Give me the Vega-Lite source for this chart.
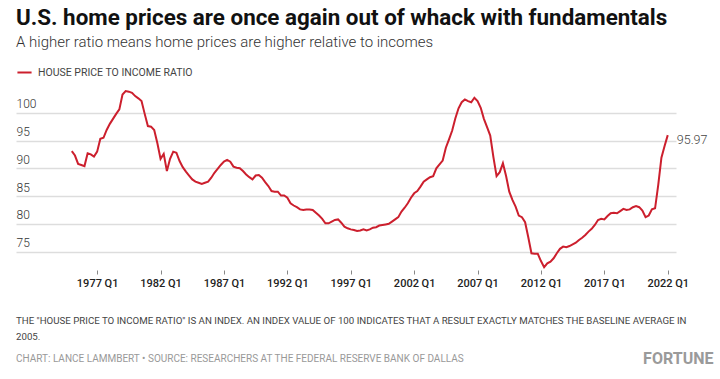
{
  "$schema": "https://vega.github.io/schema/vega-lite/v6.json",
  "background": "white",
  "padding": {"left": 16, "top": 6, "right": 8, "bottom": 0},
  "config": {"view": {"stroke": null}, "font": "Roboto", "concat": {"spacing": 0}},
  "title": {"text": "FORTUNE", "orient": "bottom", "anchor": "end", "font": "Roboto", "fontSize": 16, "fontWeight": "bold", "color": "#9a9a9a", "offset": -13, "dx": 6},
  "vconcat": [{
    "title": {
      "text": ["THE \"HOUSE PRICE TO INCOME RATIO\" IS AN INDEX. AN INDEX VALUE OF 100 INDICATES THAT A RESULT EXACTLY MATCHES THE BASELINE AVERAGE IN", "2005."],
      "subtitle": "CHART: LANCE LAMMBERT • SOURCE: RESEARCHERS AT THE FEDERAL RESERVE BANK OF DALLAS",
      "orient": "bottom", "anchor": "start", "frame": "bounds",
      "font": "Roboto", "fontSize": 9.7, "fontWeight": "normal", "color": "#444", "lineHeight": 16,
      "subtitleFont": "Roboto", "subtitleFontSize": 10, "subtitleColor": "#999", "subtitlePadding": 12.5,
      "offset": 27
    },
    "vconcat": [{
      "title": {
        "text": "U.S. home prices are once again out of whack with fundamentals",
        "subtitle": "A higher ratio means home prices are higher relative to incomes",
        "anchor": "start", "frame": "bounds",
        "font": "Roboto", "fontSize": 22.4, "fontWeight": "bold", "color": "#111",
        "subtitleFont": "Roboto", "subtitleFontSize": 15, "subtitleFontWeight": 300, "subtitleColor": "#333", "subtitlePadding": 6,
        "offset": 14
      },
      "width": 660,
      "height": 205,
      "data": {"values": [
        {"t":1975,"v":93.1},{"t":1975.25,"v":92.3},{"t":1975.5,"v":90.8},{"t":1975.75,"v":90.6},
        {"t":1976,"v":90.4},{"t":1976.25,"v":92.7},{"t":1976.5,"v":92.5},{"t":1976.75,"v":92.1},
        {"t":1977,"v":93.0},{"t":1977.25,"v":95.3},{"t":1977.5,"v":95.5},{"t":1977.75,"v":96.9},
        {"t":1978,"v":98.0},{"t":1978.25,"v":98.9},{"t":1978.5,"v":99.8},{"t":1978.75,"v":100.6},
        {"t":1979,"v":103.3},{"t":1979.25,"v":103.9},{"t":1979.5,"v":103.8},{"t":1979.75,"v":103.6},
        {"t":1980,"v":103.0},{"t":1980.25,"v":102.6},{"t":1980.5,"v":102.1},{"t":1980.75,"v":99.8},
        {"t":1981,"v":97.6},{"t":1981.25,"v":97.5},{"t":1981.5,"v":96.9},{"t":1981.75,"v":94.5},
        {"t":1982,"v":91.7},{"t":1982.25,"v":92.6},{"t":1982.5,"v":89.5},{"t":1982.75,"v":91.7},
        {"t":1983,"v":93.0},{"t":1983.25,"v":92.8},{"t":1983.5,"v":91.3},{"t":1983.75,"v":90.2},
        {"t":1984,"v":89.4},{"t":1984.25,"v":88.7},{"t":1984.5,"v":88.0},{"t":1984.75,"v":87.6},
        {"t":1985,"v":87.4},{"t":1985.25,"v":87.2},{"t":1985.5,"v":87.4},{"t":1985.75,"v":87.6},
        {"t":1986,"v":88.3},{"t":1986.25,"v":89.2},{"t":1986.5,"v":89.9},{"t":1986.75,"v":90.6},
        {"t":1987,"v":91.2},{"t":1987.25,"v":91.5},{"t":1987.5,"v":91.2},{"t":1987.75,"v":90.3},
        {"t":1988,"v":90.1},{"t":1988.25,"v":90.0},{"t":1988.5,"v":89.5},{"t":1988.75,"v":88.9},
        {"t":1989,"v":88.4},{"t":1989.25,"v":88.0},{"t":1989.5,"v":88.7},{"t":1989.75,"v":88.8},
        {"t":1990,"v":88.3},{"t":1990.25,"v":87.5},{"t":1990.5,"v":86.8},{"t":1990.75,"v":85.9},
        {"t":1991,"v":85.8},{"t":1991.25,"v":85.8},{"t":1991.5,"v":85.1},{"t":1991.75,"v":85.1},
        {"t":1992,"v":84.7},{"t":1992.25,"v":83.7},{"t":1992.5,"v":83.3},{"t":1992.75,"v":83.0},
        {"t":1993,"v":82.6},{"t":1993.25,"v":82.5},{"t":1993.5,"v":82.6},{"t":1993.75,"v":82.6},
        {"t":1994,"v":82.5},{"t":1994.25,"v":82.0},{"t":1994.5,"v":81.5},{"t":1994.75,"v":80.9},
        {"t":1995,"v":80.1},{"t":1995.25,"v":80.1},{"t":1995.5,"v":80.4},{"t":1995.75,"v":80.7},
        {"t":1996,"v":80.8},{"t":1996.25,"v":80.2},{"t":1996.5,"v":79.5},{"t":1996.75,"v":79.2},
        {"t":1997,"v":79.0},{"t":1997.25,"v":78.9},{"t":1997.5,"v":78.7},{"t":1997.75,"v":78.8},
        {"t":1998,"v":79.0},{"t":1998.25,"v":78.8},{"t":1998.5,"v":79.0},{"t":1998.75,"v":79.3},
        {"t":1999,"v":79.4},{"t":1999.25,"v":79.7},{"t":1999.5,"v":79.8},{"t":1999.75,"v":79.9},
        {"t":2000,"v":80.0},{"t":2000.25,"v":80.4},{"t":2000.5,"v":80.8},{"t":2000.75,"v":81.2},
        {"t":2001,"v":82.2},{"t":2001.25,"v":82.9},{"t":2001.5,"v":83.7},{"t":2001.75,"v":84.7},
        {"t":2002,"v":85.5},{"t":2002.25,"v":85.9},{"t":2002.5,"v":86.7},{"t":2002.75,"v":87.6},
        {"t":2003,"v":88.0},{"t":2003.25,"v":88.4},{"t":2003.5,"v":88.6},{"t":2003.75,"v":90.0},
        {"t":2004,"v":90.7},{"t":2004.25,"v":91.4},{"t":2004.5,"v":93.7},{"t":2004.75,"v":95.2},
        {"t":2005,"v":96.8},{"t":2005.25,"v":99.0},{"t":2005.5,"v":100.8},{"t":2005.75,"v":101.9},
        {"t":2006,"v":102.4},{"t":2006.25,"v":102.1},{"t":2006.5,"v":101.9},{"t":2006.75,"v":102.7},
        {"t":2007,"v":102.1},{"t":2007.25,"v":100.9},{"t":2007.5,"v":98.9},{"t":2007.75,"v":97.4},
        {"t":2008,"v":95.9},{"t":2008.25,"v":92.0},{"t":2008.5,"v":88.6},{"t":2008.75,"v":89.3},
        {"t":2009,"v":90.9},{"t":2009.25,"v":88.6},{"t":2009.5,"v":85.8},{"t":2009.75,"v":84.3},
        {"t":2010,"v":83.1},{"t":2010.25,"v":81.5},{"t":2010.5,"v":81.2},{"t":2010.75,"v":80.3},
        {"t":2011,"v":77.6},{"t":2011.25,"v":74.7},{"t":2011.5,"v":74.6},{"t":2011.75,"v":74.6},
        {"t":2012,"v":73.3},{"t":2012.25,"v":72.2},{"t":2012.5,"v":72.9},{"t":2012.75,"v":73.2},
        {"t":2013,"v":73.8},{"t":2013.25,"v":74.7},{"t":2013.5,"v":75.5},{"t":2013.75,"v":75.9},
        {"t":2014,"v":75.8},{"t":2014.25,"v":76.0},{"t":2014.5,"v":76.3},{"t":2014.75,"v":76.6},
        {"t":2015,"v":77.1},{"t":2015.25,"v":77.5},{"t":2015.5,"v":78.0},{"t":2015.75,"v":78.6},
        {"t":2016,"v":79.1},{"t":2016.25,"v":79.8},{"t":2016.5,"v":80.7},{"t":2016.75,"v":80.9},
        {"t":2017,"v":80.8},{"t":2017.25,"v":81.4},{"t":2017.5,"v":81.9},{"t":2017.75,"v":82.0},
        {"t":2018,"v":81.9},{"t":2018.25,"v":82.3},{"t":2018.5,"v":82.7},{"t":2018.75,"v":82.5},
        {"t":2019,"v":82.6},{"t":2019.25,"v":83.0},{"t":2019.5,"v":83.2},{"t":2019.75,"v":83.0},
        {"t":2020,"v":82.4},{"t":2020.25,"v":81.2},{"t":2020.5,"v":81.5},{"t":2020.75,"v":82.6},
        {"t":2021,"v":82.8},{"t":2021.25,"v":87.0},{"t":2021.5,"v":91.9},{"t":2021.75,"v":94.0},
        {"t":2022,"v":95.97}
      ]},
      "encoding": {
        "x": {"field": "t", "type": "quantitative",
          "scale": {"domain": [1970.6, 2022.65], "nice": false, "zero": false},
          "axis": {"values": [1977, 1982, 1987, 1992, 1997, 2002, 2007, 2012, 2017, 2022],
            "labelExpr": "datum.value + ' Q1'", "title": null, "grid": false, "domain": false,
            "ticks": true, "tickSize": 4, "tickColor": "#888", "tickWidth": 1, "offset": 1,
            "labelPadding": 3.5, "labelFontSize": 11, "labelColor": "#222", "labelFontWeight": 500,
            "labelFont": "Roboto", "labelFlush": false, "labelOverlap": false}},
        "y": {"field": "v", "type": "quantitative",
          "scale": {"domain": [71.87, 108.78], "nice": false, "zero": false},
          "axis": {"values": [75, 80, 85, 90, 95, 100], "title": null, "grid": true,
            "gridColor": "#dddddd", "gridWidth": 1.5, "domain": false, "ticks": false, "tickSize": 0,
            "labelAlign": "left", "labelBaseline": "alphabetic", "labelPadding": 0, "labelOffset": -5,
            "labelFontSize": 12, "labelColor": "#333", "labelFont": "Roboto", "labelFontWeight": 300, "labelFlush": false}}
      },
      "layer": [
        {"mark": {"type": "line", "strokeWidth": 2, "interpolate": "linear"},
         "encoding": {"color": {"datum": "HOUSE PRICE TO INCOME RATIO", "type": "nominal",
           "scale": {"range": ["#cc1f2d"]},
           "legend": {"orient": "top-left", "title": null, "symbolType": "stroke", "symbolStrokeWidth": 2,
             "symbolSize": 200, "labelFontSize": 10.5, "labelColor": "#444", "labelFont": "Roboto",
             "labelLimit": 400, "offset": 0, "padding": 0, "labelOffset": 5}}}},
        {"transform": [{"filter": "datum.t == 2022"}],
         "mark": {"type": "text", "align": "left", "baseline": "middle", "dx": 9, "dy": 5,
           "fontSize": 12.5, "fontWeight": 300, "color": "#444", "font": "Roboto"},
         "encoding": {"text": {"field": "v", "type": "quantitative", "format": ".2f"}}}
      ]
    }]
  }]
}
